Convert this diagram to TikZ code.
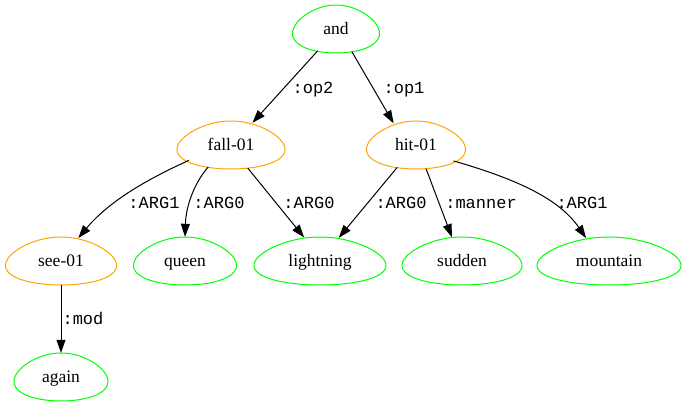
\documentclass[tikz,border=0pt]{standalone}
\usepackage{fontspec}
\setmainfont{Liberation Serif}
\setmonofont{Liberation Mono}
\usetikzlibrary{shapes.geometric,arrows.meta}
\definecolor{gvgreen}{HTML}{00FF00}
\definecolor{gvorange}{HTML}{FFA500}
\tikzset{
  concept/.style={ellipse, inner sep=0pt, minimum height=48pt,
    text height=13pt, text depth=3pt,
    font=\fontsize{17.5}{20}\selectfont},
  rel/.style={inner sep=0pt, text height=12pt, text depth=0pt,
    font=\ttfamily\fontsize{17}{20}\selectfont},
  edge/.style={line width=1pt, -{Triangle[length=13pt,width=9pt]}},
  eggline/.style={line width=1pt},
}
% egg outline round a node: #1 node, #2 half width, #3 half height, #4 colour
\newcommand\eggaround[4]{%
  \begin{scope}[shift={(#1.center)}]
    \draw[eggline,#4] plot[domain=0:356, samples=90, variable=\t]
      ({#2*cos(\t)*(1+0.2*sin(\t))/1.019},{#3*sin(\t)}) -- cycle;
  \end{scope}}
\begin{document}
\begin{tikzpicture}[x=1pt,y=-1pt]
\useasboundingbox (0,0) rectangle (685,407);

% concepts
\node[concept, minimum width=87pt]  (and)       at (336,29)  {and};
\node[concept, minimum width=108pt] (fall)      at (231,145) {fall-01};
\node[concept, minimum width=99pt]  (hit)       at (416,145) {hit-01};
\node[concept, minimum width=111pt] (see)       at (61,261)  {see-01};
\node[concept, minimum width=103pt] (queen)     at (185,261) {queen};
\node[concept, minimum width=132pt] (lightning) at (320,261) {lightning};
\node[concept, minimum width=120pt] (sudden)    at (462,261) {sudden};
\node[concept, minimum width=144pt] (mountain)  at (609,261) {mountain};
\node[concept, minimum width=94pt]  (again)     at (61,377)  {again};

\eggaround{and}{43.5}{24}{gvgreen}
\eggaround{fall}{54}{24}{gvorange}
\eggaround{hit}{49.5}{24}{gvorange}
\eggaround{see}{55.5}{24}{gvorange}
\eggaround{queen}{51.5}{24}{gvgreen}
\eggaround{lightning}{66}{24}{gvgreen}
\eggaround{sudden}{60}{24}{gvgreen}
\eggaround{mountain}{72}{24}{gvgreen}
\eggaround{again}{47}{24}{gvgreen}

% relations
\draw[edge] (and.230) -- (fall.46);
\draw[edge] (and.305) -- (hit.136);
\draw[edge] (fall.200) .. controls (150,178) and (110,200) .. (see.53);
\draw[edge] (fall.224) .. controls (195,182) and (186,205) .. (queen.north);
\draw[edge] (fall.306) -- (lightning.124);
\draw[edge] (hit.230) -- (lightning.51);
\draw[edge] (hit.293) -- (sudden.113);
\draw[edge] (hit.337) .. controls (520,180) and (560,200) .. (mountain.135);
\draw[edge] (see) -- (again);

% relation labels
\node[rel] (l-op2)   at (313,87)  {:op2};
\node[rel] (l-op1)   at (404,87)  {:op1};
\node[rel] (l-see)   at (154,202) {:ARG1};
\node[rel] (l-queen) at (219,202) {:ARG0};
\node[rel] (l-fl)    at (309,202) {:ARG0};
\node[rel] (l-hl)    at (401,202) {:ARG0};
\node[rel] (l-man)   at (481,202) {:manner};
\node[rel] (l-mtn)   at (582,202) {:ARG1};
\node[rel] (l-mod)   at (83,318)  {:mod};
\end{tikzpicture}
\end{document}
